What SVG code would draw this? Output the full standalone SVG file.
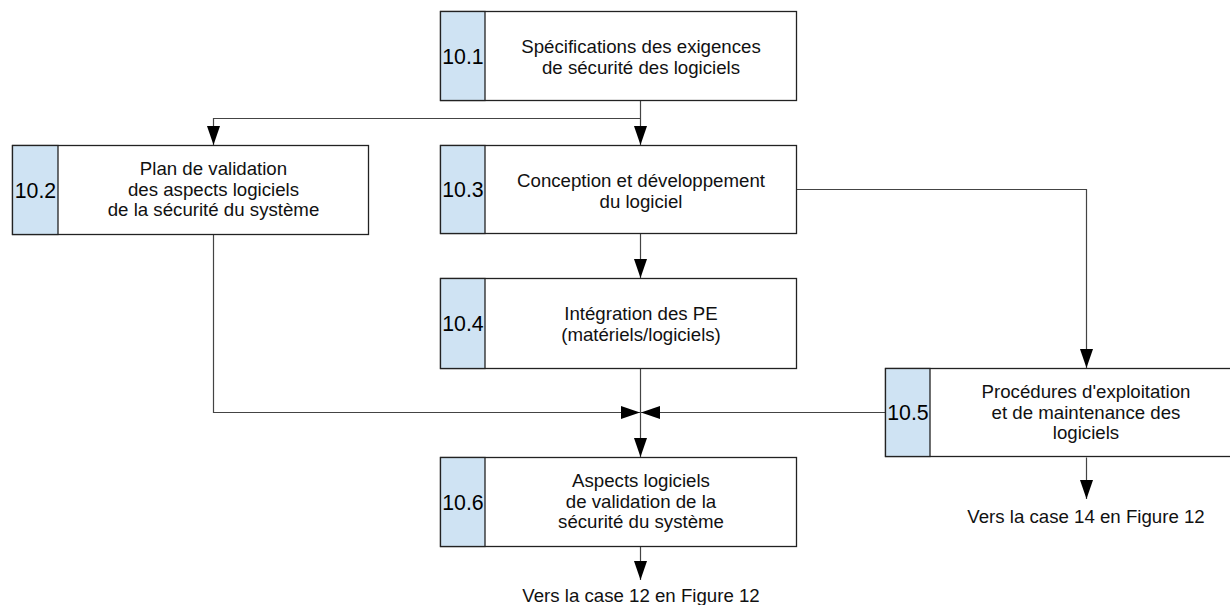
<svg xmlns="http://www.w3.org/2000/svg" width="1230" height="605" viewBox="0 0 1230 605">
<style>
.box{fill:#ffffff;stroke:#222;stroke-width:1.3}
.strip{fill:#cfe3f3;stroke:#222;stroke-width:1.3}
.num{font-family:"Liberation Sans",Arial,sans-serif;font-size:21.3px;fill:#000;text-anchor:middle}
.txt{font-family:"Liberation Sans",Arial,sans-serif;font-size:18.67px;fill:#111;text-anchor:middle}
.con{fill:none;stroke:#444;stroke-width:1.2}
</style>
<defs>
<marker id="ah" markerWidth="19" markerHeight="13" refX="19" refY="6.5" orient="auto" markerUnits="userSpaceOnUse">
<path d="M0,0 L19,6.5 L0,13 Z" fill="#000"/>
</marker>
</defs>
<rect width="1230" height="605" fill="#fff"/>
<g id="connectors">
<path class="con" d="M640.5,100.5 V145" marker-end="url(#ah)"/>
<path class="con" d="M640.5,118.5 H213.5 V145" marker-end="url(#ah)"/>
<path class="con" d="M640.5,233.5 V278" marker-end="url(#ah)"/>
<path class="con" d="M796.5,189.5 H1086.5 V368" marker-end="url(#ah)"/>
<path class="con" d="M640.5,368.5 V457" marker-end="url(#ah)"/>
<path class="con" d="M213.5,234.5 V412.5 H640" marker-end="url(#ah)"/>
<path class="con" d="M885.5,412.5 H641" marker-end="url(#ah)"/>
<path class="con" d="M640.5,546.5 V580" marker-end="url(#ah)"/>
<path class="con" d="M1086.5,457.5 V499" marker-end="url(#ah)"/>
</g>
<g id="n10_1">
<rect class="box" x="440.5" y="11.5" width="356" height="89"/>
<rect class="strip" x="440.5" y="11.5" width="44.5" height="89"/>
<text class="num" x="463" y="64">10.1</text>
<text class="txt" x="641" y="53">Spécifications des exigences</text>
<text class="txt" x="641" y="74">de sécurité des logiciels</text>
</g>
<g id="n10_2">
<rect class="box" x="12.5" y="145.5" width="356" height="89"/>
<rect class="strip" x="12.5" y="145.5" width="45.5" height="89"/>
<text class="num" x="35.5" y="197.5">10.2</text>
<text class="txt" x="213.5" y="175">Plan de validation</text>
<text class="txt" x="213.5" y="195.5">des aspects logiciels</text>
<text class="txt" x="213.5" y="216">de la sécurité du système</text>
</g>
<g id="n10_3">
<rect class="box" x="440.5" y="145.5" width="356" height="88"/>
<rect class="strip" x="440.5" y="145.5" width="44.5" height="88"/>
<text class="num" x="463" y="197">10.3</text>
<text class="txt" x="641" y="187">Conception et développement</text>
<text class="txt" x="641" y="207.5">du logiciel</text>
</g>
<g id="n10_4">
<rect class="box" x="440.5" y="278.5" width="356" height="90"/>
<rect class="strip" x="440.5" y="278.5" width="44.5" height="90"/>
<text class="num" x="463" y="331">10.4</text>
<text class="txt" x="641" y="320">Intégration des PE</text>
<text class="txt" x="641" y="340.5">(matériels/logiciels)</text>
</g>
<g id="n10_5">
<rect class="box" x="885.5" y="368.5" width="356" height="88"/>
<rect class="strip" x="885.5" y="368.5" width="44.5" height="88"/>
<text class="num" x="908" y="420">10.5</text>
<text class="txt" x="1086" y="398">Procédures d'exploitation</text>
<text class="txt" x="1086" y="418.5">et de maintenance des</text>
<text class="txt" x="1086" y="439">logiciels</text>
</g>
<g id="n10_6">
<rect class="box" x="440.5" y="457.5" width="356" height="89"/>
<rect class="strip" x="440.5" y="457.5" width="44.5" height="89"/>
<text class="num" x="463" y="509.5">10.6</text>
<text class="txt" x="641" y="487">Aspects logiciels</text>
<text class="txt" x="641" y="507.5">de validation de la</text>
<text class="txt" x="641" y="528">sécurité du système</text>
</g>
<g id="out12">
<text class="txt" x="641" y="602">Vers la case 12 en Figure 12</text>
</g>
<g id="out14">
<text class="txt" x="1086" y="523">Vers la case 14 en Figure 12</text>
</g>
</svg>
